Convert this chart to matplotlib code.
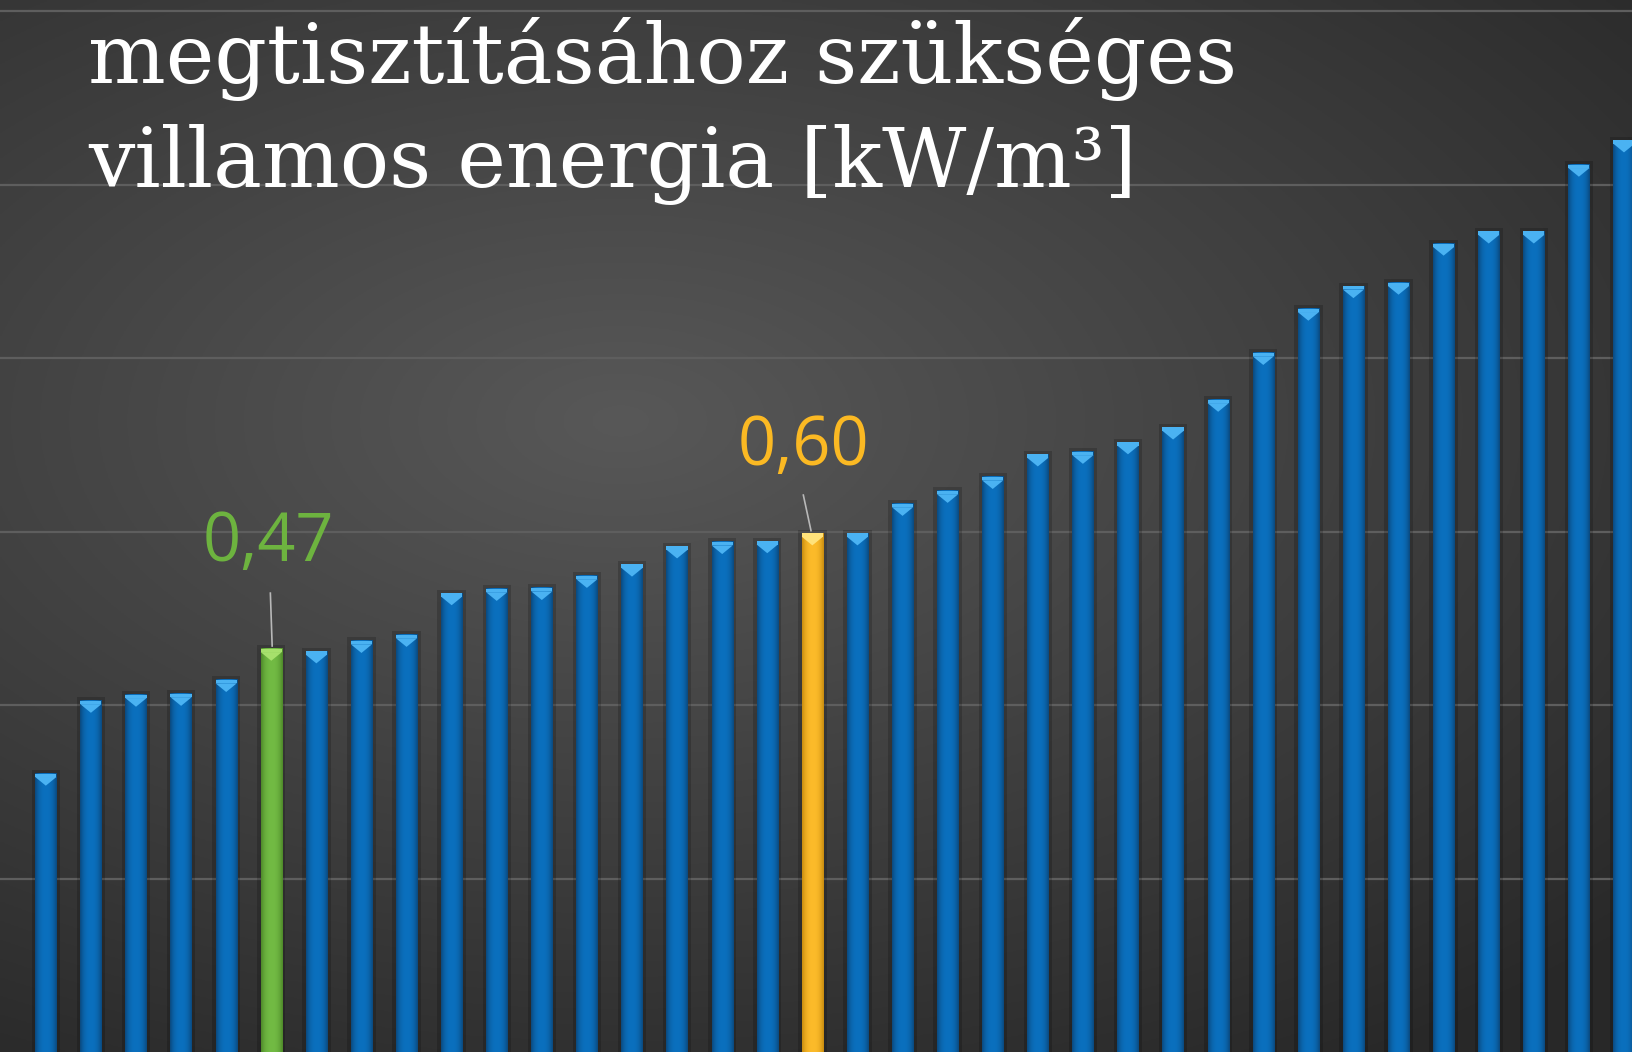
import numpy as np
import matplotlib
matplotlib.use('Agg')
import matplotlib.pyplot as plt
from matplotlib.patches import Polygon, Rectangle

# Values (kW/m3), sorted ascending
values = [0.321, 0.405, 0.412, 0.413, 0.429, 0.465, 0.462, 0.474, 0.481,
          0.529, 0.534, 0.535, 0.549, 0.562, 0.583, 0.588, 0.589, 0.598,
          0.598, 0.632, 0.647, 0.663, 0.689, 0.692, 0.703, 0.720, 0.752,
          0.806, 0.857, 0.883, 0.887, 0.932, 0.946, 0.946, 1.023, 1.051]
highlight = {5: 'green', 17: 'yellow'}
labels = {5: '0,47', 17: '0,60'}
title_lines = ['megtisztításához szükséges', 'villamos energia [kW/m³]']

blue_edge, blue_mid, blue_top = '#0b4a80', '#0a70be', '#4ab2f2'
colors = {
    'green': ('#4f8a2a', '#72bb44', '#a6e06c'),
    'yellow': ('#c98d10', '#fcbb2a', '#ffe27a'),
}
label_colors = {5: '#6db33f', 17: '#fbb923'}

fig = plt.figure(figsize=(16.33, 10.52), dpi=100)

# radial background
bg = fig.add_axes([0, 0, 1, 1], zorder=0)
yy, xx = np.mgrid[0:1:400j, 0:1:620j]
r = np.sqrt(((xx - 0.38) / 1.0) ** 2 + ((yy - 0.40) / 0.85) ** 2)
shade = np.clip(0.345 - 0.22 * r, 0.16, 0.36)
bg.imshow(np.dstack([shade] * 3), extent=(0, 1, 0, 1), aspect='auto', origin='upper')
bg.axis('off')

ax = fig.add_axes([0, 0, 1, 1], zorder=1)
ax.patch.set_alpha(0)
ax.set_xlim(-1.016, 35.2)
ax.set_ylim(0, 1.2127)
for s in ax.spines.values():
    s.set_visible(False)
ax.set_xticks([])
ax.set_yticks(np.arange(0.2, 1.21, 0.2))
ax.tick_params(left=False, labelleft=False)
ax.grid(axis='y', color='#5e5e5e', lw=1.6)
ax.set_axisbelow(True)

w = 0.47
for i, v in enumerate(values):
    if i in highlight:
        edge, mid, top = colors[highlight[i]]
    else:
        edge, mid, top = blue_edge, blue_mid, blue_top
    # soft shadow
    ax.add_patch(Rectangle((i - w / 2 - 0.08, 0), w + 0.16, v + 0.004,
                           color='black', alpha=0.18, lw=0, zorder=2))
    # cylinder gradient across the bar
    t = np.linspace(-1, 1, 40)
    k = np.abs(t) ** 2.5
    c0 = np.array(matplotlib.colors.to_rgb(mid))
    c1 = np.array(matplotlib.colors.to_rgb(edge))
    grad = (c0[None, :] * (1 - k[:, None]) + c1[None, :] * k[:, None])[None, :, :]
    ax.imshow(grad, extent=(i - w / 2, i + w / 2, 0, v), aspect='auto',
              zorder=3, interpolation='bilinear')
    # top cap
    ax.add_patch(Rectangle((i - w / 2, v - 0.004), w, 0.004, color=top, lw=0, zorder=4))
    ax.add_patch(Polygon([(i - w / 2, v - 0.004), (i + w / 2, v - 0.004), (i, v - 0.014)],
                         closed=True, color=top, lw=0, zorder=4))

# data labels with leader lines
ax.text(4.94, 0.586, labels[5], color=label_colors[5], fontsize=48,
        family='Open Sans', ha='center', va='center', zorder=5)
ax.plot([4.98, 5.02], [0.529, 0.468], color='#b8b8b8', lw=1.2, zorder=5)
ax.text(16.8, 0.697, labels[17], color=label_colors[17], fontsize=48,
        family='Open Sans', ha='center', va='center', zorder=5)
ax.plot([16.8, 16.97], [0.642, 0.601], color='#b8b8b8', lw=1.2, zorder=5)

# title (upper line is cut by the frame)
fig.text(0.054, 0.921, title_lines[0], color='white', fontsize=59,
         family='DejaVu Serif', va='baseline', ha='left', zorder=6)
fig.text(0.054, 0.822, title_lines[1], color='white', fontsize=59,
         family='DejaVu Serif', va='baseline', ha='left', zorder=6)

fig.savefig('out.png', dpi=100)
